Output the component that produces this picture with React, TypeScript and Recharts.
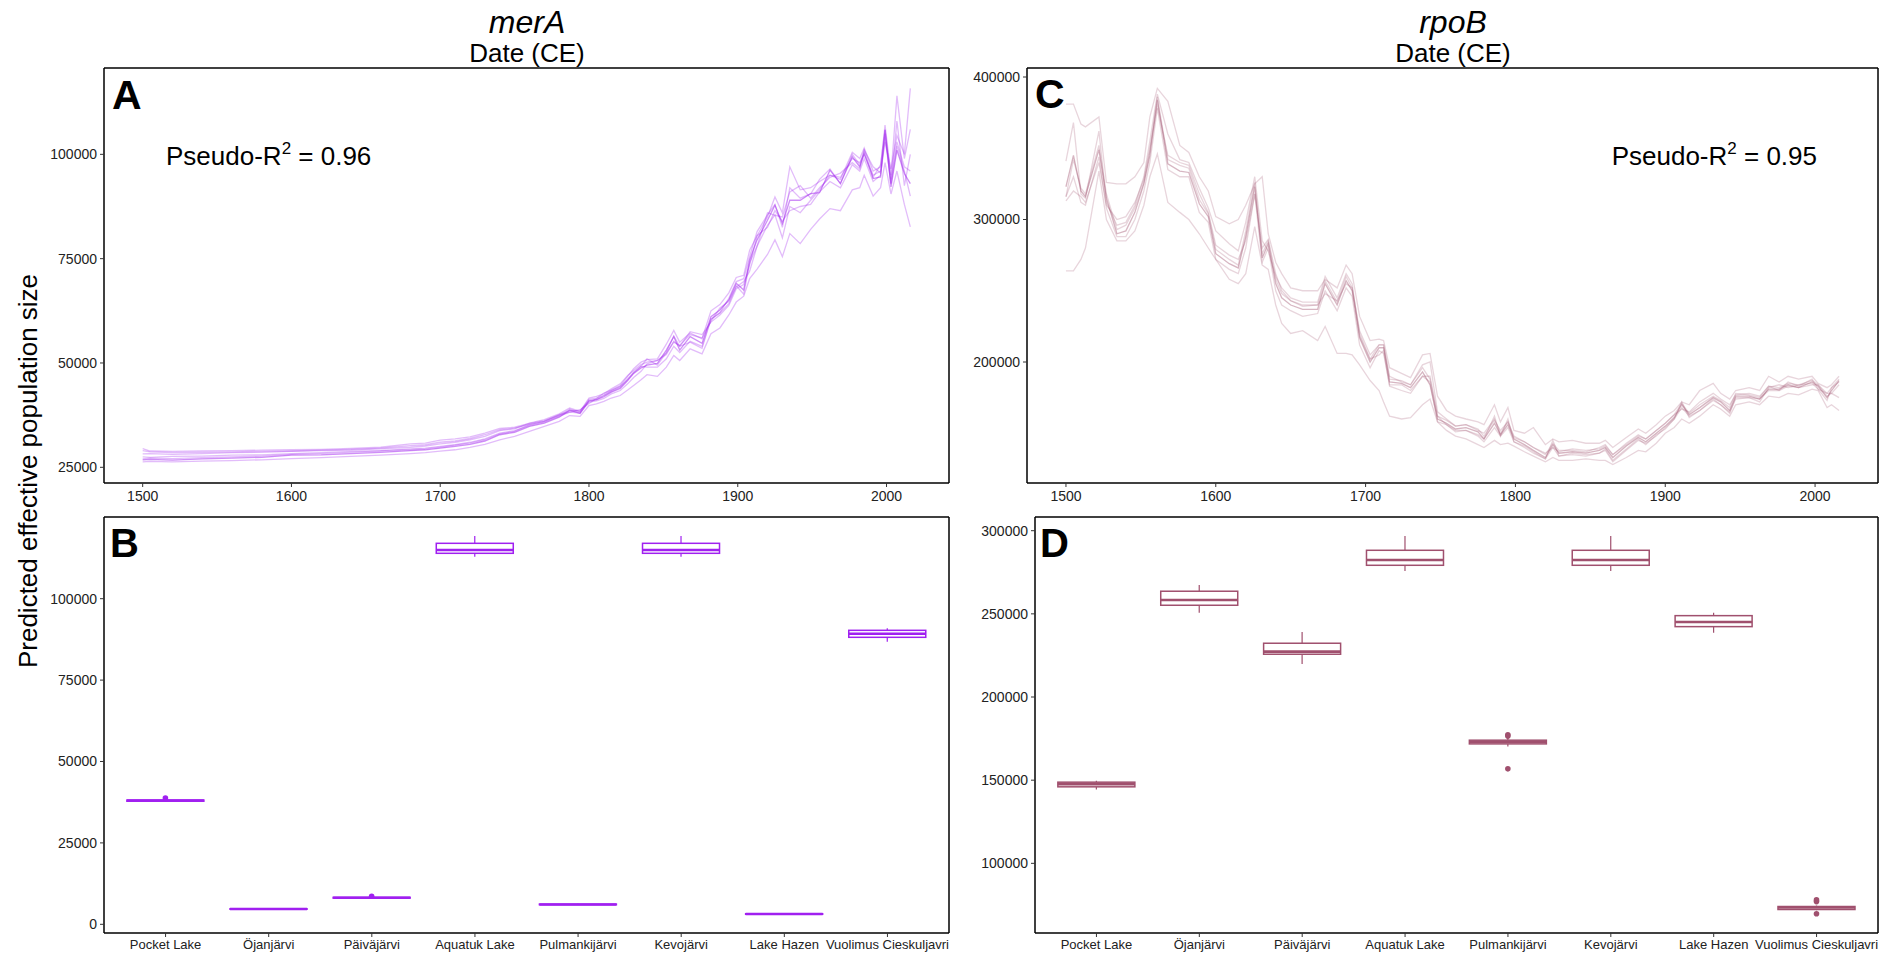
import React from 'react';
import { LineChart, Line, XAxis, YAxis, ComposedChart, Bar } from 'recharts';

const FONT = '"Liberation Sans", Arial, Helvetica, sans-serif';

// ---------- Panel A (merA) time series ----------
const YEARS_A = [
  1500, 1505, 1520, 1540, 1560, 1580, 1600, 1620, 1640, 1660,
  1680, 1690, 1700, 1710, 1720, 1730, 1740, 1750, 1760, 1770,
  1780, 1787, 1794, 1800, 1805, 1810, 1815, 1821, 1826, 1830,
  1835, 1839, 1846, 1852, 1857, 1861, 1868, 1876, 1882, 1888,
  1894, 1899, 1904, 1908, 1913, 1920, 1925, 1930, 1935, 1942,
  1949, 1955, 1962, 1969, 1977, 1982, 1985, 1991, 1996, 1999,
  2003, 2007, 2012, 2016,
];
const MERA_1 = [
  26800, 26900, 26700, 27000, 27200, 27400, 27900, 28000, 28300, 28600,
  29000, 29200, 29600, 30000, 30500, 31300, 32800, 33400, 34800, 35600,
  37000, 38700, 37900, 41000, 41200, 41900, 43000, 43900, 45800, 47500,
  48800, 49500, 49900, 53100, 56300, 53100, 56300, 54700, 61100, 62700,
  65100, 69100, 67500, 74700, 79500, 84200, 87800, 83400, 89000, 89000,
  90600, 90800, 96200, 93000, 99400, 97000, 100200, 94200, 94600, 105800,
  92200, 101000, 95400, 93000,
];
const MERA_2 = [
  29500, 28900, 28800, 28900, 29000, 29100, 29200, 29300, 29500, 29800,
  30600, 30800, 31500, 31800, 32300, 33200, 34300, 34600, 35500, 36200,
  37500, 38200, 38800, 40300, 41500, 42800, 43500, 44600, 46800, 48600,
  50200, 50800, 51000, 54500, 57800, 55000, 57200, 55800, 62500, 64000,
  66800, 70500, 71000, 77000, 80500, 85000, 89800, 86000, 97000, 91500,
  92000, 93500, 95000, 94000, 100500, 99000, 101500, 96000, 97000, 107000,
  95000, 114000, 99000, 106000,
];
const MERA_3 = [
  28200, 28300, 28100, 28300, 28500, 28600, 28800, 29000, 29100, 29400,
  29800, 30100, 30600, 31000, 31600, 32400, 33800, 34200, 35600, 36400,
  37800, 39200, 38400, 41600, 42000, 42600, 43800, 45000, 47000, 48200,
  49600, 50200, 50600, 52400, 55000, 54200, 56800, 56000, 60000, 63200,
  64800, 68200, 69500, 72000, 78000, 86000, 85400, 85000, 91000, 92500,
  89500, 92000, 94500, 95500, 98000, 96500, 101000, 97000, 95500, 103000,
  96500, 104500, 100000, 115800,
];
const MERA_4 = [
  26300, 26400, 26300, 26500, 26600, 26800, 27100, 27300, 27600, 27900,
  28300, 28500, 28900, 29200, 29800, 30500, 31600, 32400, 33600, 34800,
  36000, 37400, 37200, 39800, 40200, 40800, 41600, 42200, 43500, 44600,
  46000, 47200, 46800, 49000, 51800, 50600, 53400, 52200, 57000, 58400,
  61500, 64600, 66000, 70200, 72500, 76000, 79500, 75500, 81000, 78600,
  82000, 84500, 87000, 86500, 91500, 92000, 95000, 90000, 92000, 98000,
  90500, 96000, 88000, 82600,
];
const MERA_5 = [
  27500, 27400, 27600, 27700, 27900, 28000, 28300, 28500, 28800, 29000,
  29400, 29600, 30000, 30400, 31000, 31800, 33200, 33800, 35000, 35800,
  37200, 38200, 38000, 40600, 40900, 41500, 42600, 43400, 45000, 46500,
  48000, 49800, 50600, 52000, 55200, 54000, 57500, 56800, 59800, 61500,
  63800, 67800, 68800, 73500, 80500, 82500, 86500, 84000, 86500, 87500,
  88000, 91000, 93500, 92000, 97500, 96000, 99000, 93500, 95000, 104000,
  93000, 108000, 92500, 100000,
];
const MERA_6 = [
  27000, 27200, 27100, 27300, 27500, 27700, 28100, 28300, 28600, 28900,
  29200, 29400, 29800, 30300, 30800, 31600, 33000, 33600, 35200, 36000,
  37400, 38900, 38200, 41300, 41600, 42200, 43200, 44200, 46200, 47800,
  49200, 49000, 49000, 51000, 54000, 52500, 55200, 54000, 60500, 62000,
  64200, 68500, 66500, 74000, 78000, 83000, 85500, 80000, 87500, 86000,
  89000, 91500, 95000, 94500, 99000, 98000, 100000, 95000, 96000, 105000,
  93000, 102000, 96000, 90000,
];
const MERA_7 = [
  29000, 28700, 28500, 28600, 28700, 28800, 28900, 29100, 29300, 29600,
  30200, 30400, 31000, 31300, 31900, 32800, 34000, 34400, 35300, 36000,
  37600, 38500, 38600, 40800, 41200, 42200, 43400, 44400, 46000, 47600,
  49200, 51000, 49500, 52500, 56500, 54000, 55000, 53500, 60500, 62000,
  65500, 69500, 70200, 75500, 81500, 85500, 88000, 82500, 92000, 89500,
  90500, 94000, 96500, 93000, 100000, 97500, 101000, 94500, 97500, 106000,
  94000, 103000, 97000, 96000,
];

// ---------- Panel C (rpoB) time series ----------
const YEARS_C = [
  1500, 1505, 1510, 1513, 1522, 1527, 1534, 1540, 1546, 1552,
  1556, 1561, 1568, 1576, 1582, 1589, 1595, 1600, 1609, 1615,
  1620, 1626, 1631, 1635, 1640, 1644, 1650, 1658, 1668, 1673,
  1681, 1687, 1691, 1696, 1703, 1709, 1712, 1716, 1724, 1730,
  1738, 1743, 1748, 1754, 1760, 1767, 1775, 1779, 1786, 1790,
  1795, 1799, 1806, 1812, 1820, 1825, 1829, 1838, 1847, 1856,
  1860, 1865, 1874, 1882, 1887, 1894, 1900, 1906, 1911, 1916,
  1923, 1932, 1937, 1943, 1947, 1956, 1963, 1969, 1976, 1982,
  1989, 1998, 2002, 2008, 2011, 2016,
];
const RPOB_1 = [
  323000, 345000, 320000, 316000, 349000, 315000, 290000, 292000, 305000, 325000,
  345000, 384000, 339000, 334000, 333000, 311000, 302000, 276000, 269000, 266000,
  288000, 323000, 273000, 283000, 255000, 245000, 240000, 237000, 237000, 255000,
  240000, 257000, 250000, 217000, 200000, 210000, 210000, 186000, 185000, 182000,
  193000, 184000, 160000, 157000, 153000, 154000, 151000, 146000, 157000, 149000,
  156000, 146000, 142000, 138000, 133000, 142000, 136000, 137000, 136000, 138000,
  140000, 133000, 141000, 147000, 144000, 150000, 155000, 161000, 170000, 163000,
  168000, 175000, 172000, 166000, 176000, 176000, 174000, 181000, 181000, 184000,
  182000, 186000, 183000, 175000, 180000, 187000,
];
const RPOB_2 = [
  381000, 381000, 367000, 365000, 372000, 326000, 325000, 325000, 330000, 340000,
  372000, 392000, 383000, 352000, 347000, 330000, 320000, 302000, 297000, 300000,
  310000, 325000, 330000, 290000, 270000, 262000, 252000, 250000, 250000, 258000,
  252000, 268000, 262000, 232000, 215000, 216000, 215000, 196000, 192000, 189000,
  205000, 206000, 176000, 166000, 162000, 160000, 158000, 156000, 170000, 158000,
  168000, 152000, 150000, 154000, 142000, 146000, 144000, 145000, 143000, 143000,
  145000, 140000, 147000, 153000, 150000, 156000, 162000, 166000, 172000, 170000,
  180000, 185000, 178000, 174000, 180000, 182000, 180000, 190000, 186000, 190000,
  188000, 190000, 185000, 182000, 184000, 190000,
];
const RPOB_3 = [
  264000, 264000, 272000, 280000, 334000, 300000, 285000, 285000, 292000, 310000,
  330000, 346000, 312000, 305000, 300000, 290000, 280000, 272000, 258000, 255000,
  262000, 295000, 268000, 265000, 240000, 227000, 220000, 222000, 215000, 225000,
  206000, 206000, 205000, 198000, 187000, 180000, 172000, 162000, 160000, 161000,
  170000, 174000, 158000, 152000, 148000, 146000, 142000, 140000, 145000, 142000,
  143000, 141000, 137000, 134000, 130000, 133000, 131000, 131000, 132000, 131000,
  131000, 128000, 133000, 138000, 137000, 143000, 150000, 154000, 160000, 157000,
  162000, 170000, 167000, 162000, 170000, 172000, 170000, 176000, 175000, 178000,
  177000, 181000, 180000, 168000, 170000, 166000,
];
const RPOB_4 = [
  313000, 320000, 316000, 312000, 340000, 310000, 300000, 302000, 312000, 328000,
  350000, 380000, 345000, 340000, 338000, 318000, 305000, 282000, 275000, 272000,
  285000, 318000, 280000, 286000, 262000, 250000, 243000, 240000, 240000, 248000,
  243000, 255000, 252000, 222000, 205000, 212000, 212000, 190000, 186000, 184000,
  198000, 200000, 165000, 160000, 155000, 156000, 152000, 150000, 160000, 150000,
  158000, 147000, 144000, 140000, 136000, 140000, 137000, 139000, 138000, 139000,
  141000, 135000, 142000, 148000, 146000, 152000, 157000, 163000, 167000, 165000,
  172000, 178000, 174000, 170000, 177000, 178000, 176000, 183000, 180000, 186000,
  183000, 188000, 181000, 178000, 178000, 184000,
];
const RPOB_5 = [
  341000, 368000, 318000, 315000, 362000, 312000, 296000, 298000, 310000, 330000,
  355000, 388000, 360000, 342000, 340000, 322000, 308000, 292000, 283000, 278000,
  298000, 330000, 285000, 278000, 260000, 252000, 245000, 242000, 242000, 260000,
  245000, 262000, 255000, 218000, 202000, 205000, 208000, 183000, 180000, 178000,
  190000, 190000, 162000, 156000, 152000, 152000, 149000, 146000, 162000, 148000,
  160000, 144000, 141000, 137000, 132000, 145000, 134000, 136000, 135000, 136000,
  139000, 131000, 139000, 146000, 142000, 149000, 153000, 160000, 172000, 161000,
  166000, 173000, 170000, 164000, 175000, 175000, 172000, 182000, 184000, 182000,
  184000, 185000, 181000, 173000, 182000, 188000,
];
const RPOB_6 = [
  316000, 330000, 312000, 310000, 344000, 308000, 288000, 288000, 300000, 320000,
  340000, 378000, 335000, 330000, 330000, 305000, 298000, 272000, 265000, 262000,
  280000, 318000, 270000, 280000, 250000, 240000, 236000, 232000, 234000, 250000,
  236000, 252000, 246000, 212000, 196000, 208000, 206000, 184000, 184000, 180000,
  190000, 186000, 158000, 156000, 151000, 152000, 148000, 144000, 154000, 148000,
  154000, 144000, 140000, 136000, 132000, 140000, 134000, 135000, 134000, 136000,
  138000, 130000, 138000, 145000, 143000, 148000, 154000, 160000, 168000, 162000,
  166000, 174000, 170000, 165000, 174000, 175000, 174000, 180000, 180000, 183000,
  182000, 184000, 184000, 176000, 178000, 175000,
];
const RPOB_7 = [
  316000, 342000, 322000, 318000, 352000, 318000, 293000, 296000, 308000, 326000,
  348000, 386000, 342000, 338000, 336000, 314000, 304000, 279000, 272000, 268000,
  292000, 326000, 276000, 285000, 258000, 248000, 243000, 239000, 240000, 257000,
  242000, 260000, 252000, 220000, 202000, 212000, 212000, 188000, 187000, 184000,
  196000, 188000, 162000, 159000, 155000, 156000, 153000, 148000, 159000, 152000,
  158000, 148000, 144000, 140000, 135000, 143000, 138000, 138000, 137000, 140000,
  142000, 135000, 143000, 149000, 146000, 152000, 157000, 163000, 171000, 164000,
  170000, 176000, 173000, 168000, 178000, 177000, 175000, 183000, 182000, 185000,
  184000, 187000, 184000, 178000, 182000, 186000,
];

// ---------- Box plots (B: merA, D: rpoB) ----------
const LAKES = [
  'Pocket Lake', 'Öjanjärvi', 'Päiväjärvi', 'Aquatuk Lake',
  'Pulmankijärvi', 'Kevojärvi', 'Lake Hazen', 'Vuolimus Cieskuljavri',
];
const MERA_LOW = [37600, 4550, 7950, 112900, 5950, 112900, 3050, 86800];
const MERA_Q1 = [37800, 4620, 8050, 113940, 6020, 113940, 3120, 88140];
const MERA_MED = [38000, 4700, 8170, 114960, 6100, 114960, 3180, 89250];
const MERA_Q3 = [38150, 4780, 8280, 117010, 6200, 117010, 3240, 90290];
const MERA_HIGH = [38300, 4850, 8380, 119260, 6280, 119260, 3300, 90900];
const MERA_OUT = [[38800], [], [8600], [], [], [], [], []];

const RPOB_LOW = [144400, 250720, 219890, 275780, 170200, 275780, 238700, 71800];
const RPOB_Q1 = [146000, 255170, 225720, 279200, 171810, 279200, 242310, 72240];
const RPOB_MED = [147600, 258350, 227300, 282400, 173000, 282400, 245130, 73440];
const RPOB_Q3 = [148800, 263600, 232330, 288220, 174040, 288220, 248920, 74040];
const RPOB_HIGH = [149600, 267370, 239130, 296810, 175830, 296810, 250720, 74600];
const RPOB_OUT = [[], [], [], [], [176500, 177300, 156800], [], [], [77000, 78000, 69700]];

// ---------- Axis settings ----------
const YEAR_TICKS = [1500, 1600, 1700, 1800, 1900, 2000];
const X_DOMAIN = [1474, 2042];
const MERA_Y_TICKS = [25000, 50000, 75000, 100000];
const MERA_Y_DOMAIN = [21237, 120690];
const RPOB_Y_TICKS = [200000, 300000, 400000];
const RPOB_Y_DOMAIN = [115088, 406316];
const MERA_BOX_TICKS = [0, 25000, 50000, 75000, 100000];
const MERA_BOX_DOMAIN = [-2672, 125092];
const RPOB_BOX_TICKS = [100000, 150000, 200000, 250000, 300000];
const RPOB_BOX_DOMAIN = [58113, 308233];

const MERA_COLOR = '#A020F0';
const RPOB_COLOR = '#A0506E';

function buildLineRows(years: number[], reps: number[][]) {
  return years.map((year, i) => {
    const row: any = { year };
    reps.forEach((s, k) => {
      row['r' + k] = s[i];
    });
    return row;
  });
}

function buildBoxRows(cats: string[], lw: number[], q1: number[], med: number[], q3: number[], hw: number[], out: number[][]) {
  return cats.map((name, i) => {
    const lo = Math.min(lw[i], ...out[i]);
    const hi = Math.max(hw[i], ...out[i]);
    return { name, lw: lw[i], q1: q1[i], med: med[i], q3: q3[i], hw: hw[i], out: out[i], lo, hi, range: [lo, hi] };
  });
}

const meraRows = buildLineRows(YEARS_A, [MERA_1, MERA_2, MERA_3, MERA_4, MERA_5, MERA_6, MERA_7]);
const rpobRows = buildLineRows(YEARS_C, [RPOB_1, RPOB_2, RPOB_3, RPOB_4, RPOB_5, RPOB_6, RPOB_7]);
const meraBoxRows = buildBoxRows(LAKES, MERA_LOW, MERA_Q1, MERA_MED, MERA_Q3, MERA_HIGH, MERA_OUT);
const rpobBoxRows = buildBoxRows(LAKES, RPOB_LOW, RPOB_Q1, RPOB_MED, RPOB_Q3, RPOB_HIGH, RPOB_OUT);

const axisLine = { stroke: '#000', strokeWidth: 1.5 };
const tickLine = { stroke: '#333', strokeWidth: 1 };
const numTick = { fill: '#222', fontSize: 14, fontFamily: FONT };
const catTick = { fill: '#222', fontSize: 13, fontFamily: FONT };

function LinePanel(props: any) {
  const { rows, n, color, yDomain, yTicks, width, height, margin, mainOpacity, opacity } = props;
  return (
    <LineChart width={width} height={height} data={rows} margin={margin}>
      <XAxis xAxisId="b" dataKey="year" type="number" domain={X_DOMAIN} ticks={YEAR_TICKS} allowDataOverflow interval={0}
        height={30} tickSize={4} tickMargin={4} axisLine={axisLine} tickLine={tickLine} tick={numTick} />
      <XAxis xAxisId="t" orientation="top" dataKey="year" type="number" domain={X_DOMAIN} ticks={YEAR_TICKS} allowDataOverflow
        height={1} tick={false} tickLine={false} axisLine={axisLine} />
      <YAxis yAxisId="l" type="number" domain={yDomain} ticks={yTicks} allowDataOverflow interval={0} width={60}
        tickSize={4} tickMargin={3} axisLine={axisLine} tickLine={tickLine} tick={numTick} />
      <YAxis yAxisId="r" orientation="right" type="number" domain={yDomain} ticks={yTicks} allowDataOverflow width={1}
        tick={false} tickLine={false} axisLine={axisLine} />
      {Array.from({ length: n }, (_, k) => (
        <Line key={k} xAxisId="b" yAxisId="l" type="linear" dataKey={'r' + k} stroke={color}
          strokeOpacity={k === 0 ? mainOpacity : opacity} strokeWidth={1.3} dot={false} activeDot={false}
          isAnimationActive={false} />
      ))}
    </LineChart>
  );
}

function makeBoxShape(color: string) {
  return (p: any) => {
    const { x, y, width, height, payload } = p;
    if (!payload || x == null) return null;
    const top = Math.min(y, y + height);
    const bottom = Math.max(y, y + height);
    const span = payload.hi - payload.lo;
    const py = (v: number) => (span === 0 ? top : top + ((payload.hi - v) / span) * (bottom - top));
    const cx = x + width / 2;
    const yq3 = py(payload.q3);
    const yq1 = py(payload.q1);
    return (
      <g>
        <line x1={cx} x2={cx} y1={py(payload.hw)} y2={yq3} stroke={color} strokeWidth={1.2} />
        <line x1={cx} x2={cx} y1={yq1} y2={py(payload.lw)} stroke={color} strokeWidth={1.2} />
        <rect x={x} y={yq3} width={width} height={Math.max(yq1 - yq3, 0.5)} fill="#fff" stroke={color} strokeWidth={1.5} />
        <line x1={x} x2={x + width} y1={py(payload.med)} y2={py(payload.med)} stroke={color} strokeWidth={2.6} />
        {payload.out.map((v: number, i: number) => (
          <circle key={i} cx={cx} cy={py(v)} r={2.8} fill={color} />
        ))}
      </g>
    );
  };
}

function BoxPanel(props: any) {
  const { rows, color, yDomain, yTicks, width, height, margin } = props;
  return (
    <ComposedChart width={width} height={height} data={rows} margin={margin} barCategoryGap="12.5%">
      <XAxis xAxisId="b" dataKey="name" type="category" padding={{ left: 10, right: 10 }} interval={0}
        height={20} tickSize={4} tickMargin={3} axisLine={axisLine} tickLine={tickLine} tick={catTick} />
      <XAxis xAxisId="t" orientation="top" dataKey="name" type="category" padding={{ left: 10, right: 10 }}
        height={1} tick={false} tickLine={false} axisLine={axisLine} />
      <YAxis yAxisId="l" type="number" domain={yDomain} ticks={yTicks} allowDataOverflow interval={0} width={60}
        tickSize={4} tickMargin={3} axisLine={axisLine} tickLine={tickLine} tick={numTick} />
      <YAxis yAxisId="r" orientation="right" type="number" domain={yDomain} ticks={yTicks} allowDataOverflow width={1}
        tick={false} tickLine={false} axisLine={axisLine} />
      <Bar xAxisId="b" yAxisId="l" dataKey="range" shape={makeBoxShape(color)} isAnimationActive={false} />
    </ComposedChart>
  );
}

const abs = (left: number, top: number): React.CSSProperties => ({ position: 'absolute', left, top });

export default function App() {
  return (
    <div style={{ position: 'absolute', left: 0, top: 0, width: 1890, height: 956, background: '#fff', fontFamily: FONT }}>
      <div style={abs(0, 0)}>
        <LinePanel rows={meraRows} n={7} color={MERA_COLOR} yDomain={MERA_Y_DOMAIN} yTicks={MERA_Y_TICKS}
          mainOpacity={0.5} opacity={0.3}
          width={960} height={520} margin={{ top: 67, left: 44, right: 10, bottom: 7 }} />
      </div>
      <div style={abs(960, 0)}>
        <LinePanel rows={rpobRows} n={7} color={RPOB_COLOR} yDomain={RPOB_Y_DOMAIN} yTicks={RPOB_Y_TICKS}
          mainOpacity={0.42} opacity={0.24}
          width={930} height={520} margin={{ top: 67, left: 7, right: 11, bottom: 7 }} />
      </div>
      <div style={abs(0, 500)}>
        <BoxPanel rows={meraBoxRows} color={MERA_COLOR} yDomain={MERA_BOX_DOMAIN} yTicks={MERA_BOX_TICKS}
          width={960} height={456} margin={{ top: 16, left: 44, right: 10, bottom: 3 }} />
      </div>
      <div style={abs(960, 500)}>
        <BoxPanel rows={rpobBoxRows} color={RPOB_COLOR} yDomain={RPOB_BOX_DOMAIN} yTicks={RPOB_BOX_TICKS}
          width={930} height={456} margin={{ top: 16, left: 15, right: 11, bottom: 3 }} />
      </div>
      <svg width={1890} height={956} style={{ position: 'absolute', left: 0, top: 0, pointerEvents: 'none' }}
        fontFamily={FONT}>
        <text x={527} y={33} fontSize={32} fontStyle="italic" textAnchor="middle" fill="#000">merA</text>
        <text x={527} y={62} fontSize={26} textAnchor="middle" fill="#000">Date (CE)</text>
        <text x={1453} y={33} fontSize={32} fontStyle="italic" textAnchor="middle" fill="#000">rpoB</text>
        <text x={1453} y={62} fontSize={26} textAnchor="middle" fill="#000">Date (CE)</text>
        <text x={37} y={471} fontSize={26} textAnchor="middle" fill="#000" transform="rotate(-90 37 471)">
          Predicted effective population size
        </text>
        <text x={166} y={165} fontSize={26} fill="#000">
          Pseudo-R<tspan dy={-11} fontSize={17}>2</tspan><tspan dy={11} fontSize={26}>{' = 0.96'}</tspan>
        </text>
        <text x={1817} y={165} fontSize={26} fill="#000" textAnchor="end">
          Pseudo-R<tspan dy={-11} fontSize={17}>2</tspan><tspan dy={11} fontSize={26}>{' = 0.95'}</tspan>
        </text>
        <text x={112} y={109} fontSize={41} fontWeight="bold" fill="#000">A</text>
        <text x={1035} y={108} fontSize={41} fontWeight="bold" fill="#000">C</text>
        <text x={110} y={557} fontSize={40} fontWeight="bold" fill="#000">B</text>
        <text x={1040} y={557} fontSize={40} fontWeight="bold" fill="#000">D</text>
      </svg>
    </div>
  );
}
